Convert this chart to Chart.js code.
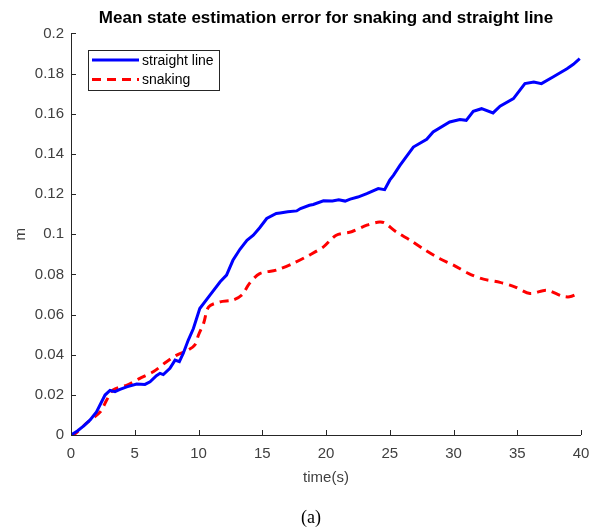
<!DOCTYPE html>
<html>
<head>
<meta charset="utf-8">
<script src="https://cdn.jsdelivr.net/npm/chart.js@4/dist/chart.umd.min.js"></script>
<style>
  html, body { margin: 0; padding: 0; background: #fff; }
  #wrap { position: relative; width: 596px; height: 529px; }
  #caption { position: absolute; left: 0; width: 622px; top: 507px; text-align: center;
    font-family: "Liberation Serif", "Times New Roman", serif; font-size: 18px; color: #000; }
</style>
</head>
<body>
<div id="wrap">
  <canvas id="myChart" width="596" height="529"></canvas>
  <div id="caption">(a)</div>
</div>
<script>
// straight line run: time (s) and error (m)
let straightTime = [0, 0.5, 1, 1.5, 2, 2.67, 3.06, 3.45, 3.84, 4.37, 5.15, 5.8, 6.2, 6.7, 6.98, 7.24, 7.76, 8.16, 8.5, 8.8,
  9.2, 9.6, 10.1, 10.9, 11.7, 12.2, 12.7, 13.25, 13.8, 14.3, 14.8, 15.35, 16.1, 16.4, 17.0, 17.7, 18.0, 18.7, 19.0, 19.8,
  20.5, 21.0, 21.5, 21.9, 22.5, 23.2, 24.1, 24.6, 25.0, 25.3, 25.8, 26.85, 27.9, 28.4, 29.7, 30.5, 31.0, 31.55, 32.2, 33.1,
  33.65, 34.7, 35.6, 36.3, 36.9, 37.8, 38.9, 39.4, 39.9];
let straightErr = [0, 0.002, 0.0045, 0.0075, 0.0115, 0.0199, 0.0222, 0.0216, 0.0227, 0.024, 0.0254, 0.0252, 0.0265, 0.0295, 0.0307, 0.0301, 0.0332, 0.0373, 0.0365, 0.0406,
  0.0473, 0.053, 0.063, 0.0697, 0.0763, 0.0796, 0.087, 0.0925, 0.097, 0.0995, 0.1032, 0.1078, 0.1103, 0.1106, 0.1112, 0.1116, 0.1128, 0.1144, 0.1148, 0.1166,
  0.1165, 0.1172, 0.1165, 0.1175, 0.1185, 0.1202, 0.1227, 0.1222, 0.1269, 0.1294, 0.1343, 0.1434, 0.1473, 0.1509, 0.1559, 0.1571, 0.1567, 0.1612, 0.1625, 0.1604,
  0.1638, 0.1675, 0.175, 0.1758, 0.175, 0.1783, 0.1824, 0.1846, 0.1874];

// snaking run
let snakeTime = [0, 0.2, 1.2, 2.3, 2.8, 3.3, 4.4, 5.4, 6.45, 7.5, 8.3, 9.1, 9.7, 10.0, 10.4, 10.8, 11.7, 12.7, 13.4, 14.0,
  14.8, 16.1, 17.4, 18.7, 19.8, 20.8, 22.0, 23.2, 24.2, 24.6, 25.5, 26.6, 27.8, 28.9, 30.0, 31.2, 32.35, 33.65, 34.8, 36.0,
  37.3, 38.5, 39.1, 39.8];
let snakeErr = [0, 0, 0.0058, 0.0116, 0.0174, 0.0224, 0.0249, 0.0282, 0.0315, 0.0365, 0.0398, 0.042, 0.0448, 0.0498, 0.0556, 0.0638, 0.0663, 0.0672, 0.0697, 0.0755,
  0.0804, 0.0821, 0.0854, 0.0896, 0.0937, 0.0995, 0.1012, 0.1045, 0.1061, 0.1056, 0.1012, 0.097, 0.092, 0.0879, 0.0846, 0.0804, 0.0776, 0.076, 0.0738, 0.0705,
  0.0721, 0.0692, 0.0688, 0.0705];

let xTicks = [0, 5, 10, 15, 20, 25, 30, 35, 40];
let yTicks = [0, 0.02, 0.04, 0.06, 0.08, 0.1, 0.12, 0.14, 0.16, 0.18, 0.2];

const axisColor = "#262626";
const labelColor = "#404040";

function toPoints(xs, ys) {
  return xs.map((x, i) => ({ x: x, y: ys[i] }));
}

// axis lines, inward ticks and the boxed legend, MATLAB style
const matlabAxes = {
  id: "matlabAxes",
  afterDatasetsDraw(chart) {
    const ctx = chart.ctx;
    const area = chart.chartArea;
    const xs = chart.scales.x, ys = chart.scales.y;
    ctx.save();
    ctx.strokeStyle = axisColor;
    ctx.lineWidth = 1;
    ctx.beginPath();
    ctx.moveTo(area.left + 0.5, area.top);
    ctx.lineTo(area.left + 0.5, area.bottom + 0.5);
    ctx.lineTo(area.right, area.bottom + 0.5);
    xTicks.forEach(v => {
      let px = Math.round(xs.getPixelForValue(v)) + 0.5;
      ctx.moveTo(px, area.bottom);
      ctx.lineTo(px, area.bottom - 5);
    });
    yTicks.forEach(v => {
      let py = Math.round(ys.getPixelForValue(v)) + 0.5;
      ctx.moveTo(area.left, py);
      ctx.lineTo(area.left + 5, py);
    });
    ctx.stroke();

    // legend
    const bx = 88.5, by = 50.5, bw = 131, bh = 40;
    ctx.fillStyle = "#fff";
    ctx.fillRect(bx, by, bw, bh);
    ctx.strokeStyle = "#262626";
    ctx.strokeRect(bx, by, bw, bh);
    ctx.font = "14px 'Liberation Sans', Arial, sans-serif";
    ctx.textBaseline = "middle";
    chart.data.datasets.forEach((ds, i) => {
      let ly = 60 + i * 19.5;
      ctx.beginPath();
      ctx.strokeStyle = ds.borderColor;
      ctx.lineWidth = 3;
      ctx.setLineDash(ds.borderDash || []);
      ctx.moveTo(92, ly);
      ctx.lineTo(139, ly);
      ctx.stroke();
      ctx.setLineDash([]);
      ctx.fillStyle = "#000";
      ctx.fillText(ds.label, 142, ly + 1);
    });
    ctx.restore();
  }
};

let ctx = document.getElementById("myChart").getContext("2d");
new Chart(ctx, {
  type: "line",
  data: {
    datasets: [
      {
        label: "straight line",
        data: toPoints(straightTime, straightErr),
        borderColor: "#0000ff",
        borderWidth: 3,
        pointRadius: 0,
        tension: 0,
        fill: false
      },
      {
        label: "snaking",
        data: toPoints(snakeTime, snakeErr),
        borderColor: "#ff0000",
        borderWidth: 3,
        borderDash: [9, 6],
        pointRadius: 0,
        tension: 0.3,
        fill: false
      }
    ]
  },
  options: {
    responsive: false,
    animation: false,
    layout: { padding: { left: 0, right: 15, top: 0, bottom: 0 } },
    plugins: {
      legend: { display: false },
      tooltip: { enabled: false },
      title: {
        display: true,
        fullSize: false,
        text: "Mean state estimation error for snaking and straight line",
        color: "#000",
        font: { family: "'Liberation Sans', Arial, sans-serif", size: 17, weight: "bold" },
        padding: { top: 8, bottom: 5 }
      }
    },
    scales: {
      x: {
        type: "linear",
        min: 0,
        max: 40,
        afterBuildTicks: s => { s.ticks = xTicks.map(v => ({ value: v })); },
        afterFit: s => { s.height = 94; s.paddingLeft = 0; s.paddingRight = 0; },
        grid: { display: false, drawTicks: false },
        border: { display: false },
        ticks: { color: labelColor, padding: 10, maxRotation: 0,
          font: { family: "'Liberation Sans', Arial, sans-serif", size: 15 } },
        title: { display: true, text: "time(s)", color: labelColor,
          font: { family: "'Liberation Sans', Arial, sans-serif", size: 15 },
          padding: { top: 0, bottom: 42 } }
      },
      y: {
        type: "linear",
        min: 0,
        max: 0.2,
        afterBuildTicks: s => { s.ticks = yTicks.map(v => ({ value: v })); },
        afterFit: s => { s.width = 71; },
        grid: { display: false, drawTicks: false },
        border: { display: false },
        ticks: { color: labelColor, padding: 7,
          font: { family: "'Liberation Sans', Arial, sans-serif", size: 15 },
          callback: v => String(Math.round(v * 100) / 100) },
        title: { display: true, text: "m", color: labelColor,
          font: { family: "'Liberation Sans', Arial, sans-serif", size: 15 },
          padding: { top: 12, bottom: 0 } }
      }
    }
  },
  plugins: [matlabAxes]
});
</script>
</body>
</html>
